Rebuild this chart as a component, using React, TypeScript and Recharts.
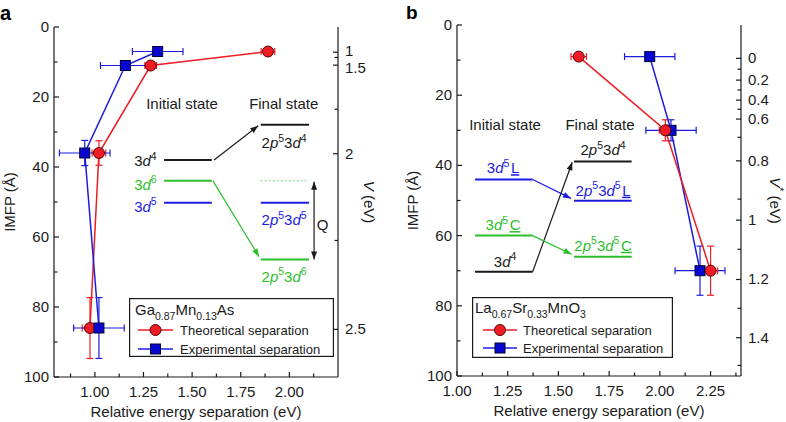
import React from "react";
import {
  ScatterChart,
  Scatter,
  XAxis,
  YAxis,
  ErrorBar,
  ReferenceLine,
  ReferenceDot,
  Legend,
} from "recharts";

const FONT = "'Liberation Sans', Arial, Helvetica, sans-serif";
const INK = "#1a1a1a";
const RED = "#ee1c24";
const BLUE = "#1c1ce0";
const GREEN = "#2bbf2b";

// panel a - Ga0.87Mn0.13As (x: eV, y: IMFP in Å)
const imfpA = [7, 11, 36, 86];
const theoA = [1.89, 1.287, 1.021, 0.975];
const theoErrXA = [0.035, 0.03, 0.035, 0.04];
const theoErrYA = [0, 0, 3.5, 8.7];
const expA = [1.323, 1.157, 0.948, 1.021];
const expErrXA = [0.13, 0.128, 0.13, 0.13];
const expErrYA = [0, 0, 3.6, 8.7];

// panel b - La0.67Sr0.33MnO3
const imfpB = [9, 30, 70];
const theoB = [1.6, 2.027, 2.25];
const theoErrXB = [0.038, 0.03, 0.035];
const theoErrYB = [0, 3, 7];
const expB = [1.95, 2.055, 2.198];
const expErrXB = [0.124, 0.124, 0.123];
const expErrYB = [0, 3, 7];

// ticks
const imfpTicks = [0, 10, 20, 30, 40, 50, 60, 70, 80, 90, 100];
const xTicksA = [0.875, 1, 1.125, 1.25, 1.375, 1.5, 1.625, 1.75, 1.875, 2, 2.125];
const xTicksB = [1, 1.125, 1.25, 1.375, 1.5, 1.625, 1.75, 1.875, 2, 2.125, 2.25, 2.375];
// right hand energy scales, placed at IMFP positions
const vPosA = [7.2, 8.7, 10.9, 23.5, 36.2, 61, 86.4];
const vLabelA = ["1", "", "1.5", "", "2", "", "2.5"];
const vPosB = [9.5, 12.6, 15.7, 18.5, 21.4, 24, 26.8, 32, 38.7, 49.6, 55.6, 63.9, 72.5, 80.7, 89.1, 97];
const vLabelB = ["0", "", "0.2", "", "0.4", "", "0.6", "", "0.8", "", "1", "", "1.2", "", "1.4", ""];

const domA: [number, number] = [0.79, 2.25];
const domB: [number, number] = [1, 2.4];

const toPoints = (xs: number[], ys: number[], ex: number[], ey: number[]) =>
  ys.map((y, i) => ({ x: xs[i], y, ex: ex[i], ey: ey[i] }));

// energy level diagrams (chart units)
const levelsA = [
  { x1: 1.356, x2: 1.601, y: 38, color: INK },
  { x1: 1.356, x2: 1.601, y: 43.9, color: GREEN },
  { x1: 1.356, x2: 1.601, y: 50.2, color: BLUE },
  { x1: 1.853, x2: 2.101, y: 27.9, color: INK },
  { x1: 1.853, x2: 2.101, y: 43.9, color: "#7fd87f", dotted: true },
  { x1: 1.853, x2: 2.101, y: 50.2, color: BLUE },
  { x1: 1.853, x2: 2.101, y: 66.4, color: GREEN },
];
const arrowsA = [
  { x1: 1.613, y1: 38, x2: 1.84, y2: 28.2, color: INK, both: false },
  { x1: 1.606, y1: 43.9, x2: 1.844, y2: 65.6, color: GREEN, both: false },
  { x1: 2.127, y1: 44.2, x2: 2.127, y2: 66.4, color: INK, both: true },
];
const textsA = [
  { x: 1.448, y: 22, t: "Initial state", color: INK, anchor: "middle" },
  { x: 1.971, y: 22, t: "Final state", color: INK, anchor: "middle" },
  { x: 1.318, y: 38.3, t: "3|~d|^4", color: INK, anchor: "end" },
  { x: 1.318, y: 45, t: "3|~d|^6", color: GREEN, anchor: "end" },
  { x: 1.318, y: 51.3, t: "3|~d|^5", color: BLUE, anchor: "end" },
  { x: 1.973, y: 33.2, t: "2|~p|^5|3|~d|^4", color: INK, anchor: "middle" },
  { x: 1.973, y: 55.1, t: "2|~p|^5|3|~d|^5", color: BLUE, anchor: "middle" },
  { x: 1.973, y: 71.3, t: "2|~p|^5|3|~d|^6", color: GREEN, anchor: "middle" },
  { x: 2.171, y: 56.6, t: "Q", color: INK, anchor: "middle" },
];

const levelsB = [
  { x1: 1.089, x2: 1.373, y: 44, color: BLUE },
  { x1: 1.089, x2: 1.373, y: 60, color: GREEN },
  { x1: 1.089, x2: 1.373, y: 70.3, color: INK },
  { x1: 1.577, x2: 1.861, y: 38.9, color: INK },
  { x1: 1.577, x2: 1.861, y: 50.1, color: BLUE },
  { x1: 1.577, x2: 1.861, y: 66, color: GREEN },
];
const arrowsB = [
  { x1: 1.373, y1: 70.3, x2: 1.568, y2: 39.1, color: INK, both: false },
  { x1: 1.373, y1: 44, x2: 1.562, y2: 49.4, color: BLUE, both: false },
  { x1: 1.373, y1: 60, x2: 1.565, y2: 65.3, color: GREEN, both: false },
];
const textsB = [
  { x: 1.237, y: 28.5, t: "Initial state", color: INK, anchor: "middle" },
  { x: 1.705, y: 28.5, t: "Final state", color: INK, anchor: "middle" },
  { x: 1.227, y: 40.8, t: "3|~d|^5|=L", color: BLUE, anchor: "middle" },
  { x: 1.72, y: 35.6, t: "2|~p|^5|3|~d|^4", color: INK, anchor: "middle" },
  { x: 1.72, y: 47.2, t: "2|~p|^5|3|~d|^5|=L", color: BLUE, anchor: "middle" },
  { x: 1.227, y: 57, t: "3|~d|^5|=C", color: GREEN, anchor: "middle" },
  { x: 1.72, y: 62.9, t: "2|~p|^5|3|~d|^5|=C", color: GREEN, anchor: "middle" },
  { x: 1.237, y: 67.4, t: "3|~d|^4", color: INK, anchor: "middle" },
];

// "|"-separated segments: ^ sup, _ sub, ~ italic, = underline
const rich = (spec: string, size: number) => {
  let cur = 0;
  return spec.split("|").map((raw, k) => {
    let s = raw;
    let sup = false, sub = false, it = false, u = false;
    while (s.length > 1 && "^_~=".includes(s[0])) {
      if (s[0] === "^") sup = true;
      if (s[0] === "_") sub = true;
      if (s[0] === "~") it = true;
      if (s[0] === "=") u = true;
      s = s.slice(1);
    }
    const target = sup ? -size * 0.42 : sub ? size * 0.3 : 0;
    const dy = target - cur;
    cur = target;
    return (
      <tspan
        key={k}
        dy={dy}
        dx={u ? 1.5 : 0}
        fontSize={sup || sub ? size * 0.7 : size}
        fontStyle={it ? "italic" : undefined}
        textDecoration={u ? "underline" : undefined}
        style={u ? { textDecoration: "underline" } : undefined}
      >
        {s}
      </tspan>
    );
  });
};

const circleShape = (p: any) => (
  <circle cx={p.cx} cy={p.cy} r={5.5} fill={RED} stroke="#5a0000" strokeWidth={1} />
);
const squareShape = (p: any) => (
  <rect x={p.cx - 5} y={p.cy - 5} width={10} height={10} fill="#0808d0" stroke="#00003a" strokeWidth={1} />
);

const isMajorX = (v: number) => Math.abs(v * 4 - Math.round(v * 4)) < 1e-6;

const BottomTick = (props: any) => {
  const { x, y, payload } = props;
  const major = isMajorX(payload.value);
  return (
    <g>
      <line x1={x} x2={x} y1={y} y2={y - (major ? 5 : 3.5)} stroke={INK} strokeWidth={1.2} />
      {major && (
        <text x={x} y={y + 20} textAnchor="middle" fontSize={15} fontFamily={FONT} fill={INK}>
          {payload.value.toFixed(2)}
        </text>
      )}
    </g>
  );
};

const LeftTick = (props: any) => {
  const { x, y, payload } = props;
  const major = payload.value % 20 === 0;
  return (
    <g>
      <line x1={x} x2={x + (major ? 5 : 3.5)} y1={y} y2={y} stroke={INK} strokeWidth={1.2} />
      {major && (
        <text x={x - 5} y={y} dy={5} textAnchor="end" fontSize={15} fontFamily={FONT} fill={INK}>
          {payload.value}
        </text>
      )}
    </g>
  );
};

const rightTick = (pos: number[], labels: string[], nudge: number[]) => (props: any) => {
  const { x, y, payload } = props;
  const i = pos.indexOf(payload.value);
  const lbl = labels[i] ?? "";
  return (
    <g>
      <line x1={x} x2={x - (lbl ? 5 : 3.5)} y1={y} y2={y} stroke={INK} strokeWidth={1.2} />
      {lbl && (
        <text x={x + 7} y={y + (nudge[i] ?? 0)} dy={5} textAnchor="start" fontSize={15} fontFamily={FONT} fill={INK}>
          {lbl}
        </text>
      )}
    </g>
  );
};

const leftTitle = (props: any) => {
  const vb = props.viewBox;
  const cx = vb.x + vb.width - 44;
  const cy = vb.y + vb.height / 2;
  return (
    <text x={cx} y={cy + 5} transform={`rotate(-90 ${cx} ${cy})`} textAnchor="middle" fontSize={15} fontFamily={FONT} fill={INK}>
      IMFP (Å)
    </text>
  );
};

const bottomTitle = (props: any) => {
  const vb = props.viewBox;
  return (
    <text x={vb.x + vb.width / 2} y={vb.y + 40} textAnchor="middle" fontSize={15} fontFamily={FONT} fill={INK}>
      Relative energy separation (eV)
    </text>
  );
};

const rightTitle = (spec: string, off: number) => (props: any) => {
  const vb = props.viewBox;
  const cx = vb.x + off;
  const cy = vb.y + vb.height / 2;
  return (
    <text x={cx} y={cy + 5} transform={`rotate(90 ${cx} ${cy})`} textAnchor="middle" fontSize={15} fontFamily={FONT} fill={INK}>
      {rich(spec, 15)}
    </text>
  );
};

const arrowShape = (color: string, both: boolean) => (p: any) => {
  const { x1, y1, x2, y2 } = p;
  const head = (hx: number, hy: number, fx: number, fy: number) => {
    const a = Math.atan2(hy - fy, hx - fx);
    const L = 8, W = 3;
    const bx = hx - L * Math.cos(a), by = hy - L * Math.sin(a);
    const pts = [
      [hx, hy],
      [bx + W * Math.sin(a), by - W * Math.cos(a)],
      [bx - W * Math.sin(a), by + W * Math.cos(a)],
    ];
    return <polygon points={pts.map((q) => q.join(",")).join(" ")} fill={color} />;
  };
  return (
    <g>
      <line x1={x1} y1={y1} x2={x2} y2={y2} stroke={color} strokeWidth={1.2} />
      {head(x2, y2, x1, y1)}
      {both && head(x1, y1, x2, y2)}
    </g>
  );
};

const textShape = (spec: string, color: string, anchor: string) => (p: any) => (
  <text x={p.cx} y={p.cy + 5} fill={color} textAnchor={anchor as any} fontSize={15} fontFamily={FONT}>
    {rich(spec, 15)}
  </text>
);

type LegendCfg = { w: number; h: number; title: string; tx: number; ty: number; rows: number[]; lx1: number; lx2: number; textX: number };

const legendBox = (c: LegendCfg) => (props: any) => {
  const items = [...(props.payload ?? [])].sort((a: any, b: any) =>
    String(a.value).startsWith("Theo") ? -1 : String(b.value).startsWith("Theo") ? 1 : 0
  );
  return (
    <svg width={c.w} height={c.h} style={{ display: "block" }}>
      <rect x={0.6} y={0.6} width={c.w - 1.2} height={c.h - 1.2} fill="#fff" stroke={INK} strokeWidth={1.2} />
      <text x={c.tx} y={c.ty} fontSize={15} fontFamily={FONT} fill={INK}>
        {rich(c.title, 15)}
      </text>
      {items.map((it: any, i: number) => {
        const y = c.rows[i];
        const mx = (c.lx1 + c.lx2) / 2;
        const theo = String(it.value).startsWith("Theo");
        return (
          <g key={i}>
            <line x1={c.lx1} x2={c.lx2} y1={y} y2={y} stroke={theo ? RED : BLUE} strokeWidth={1.5} />
            {theo ? circleShape({ cx: mx, cy: y }) : squareShape({ cx: mx, cy: y })}
            <text x={c.textX} y={y + 4.5} fontSize={13} fontFamily={FONT} fill={INK}>
              {it.value}
            </text>
          </g>
        );
      })}
    </svg>
  );
};

type PanelProps = {
  width: number;
  top: number;
  leftW: number;
  rightW: number;
  xH: number;
  dom: [number, number];
  xTicks: number[];
  vPos: number[];
  vLabel: string[];
  vNudge: number[];
  vTitle: string;
  vTitleOff: number;
  theo: any[];
  exp: any[];
  levels: any[];
  arrows: any[];
  texts: any[];
  legend: LegendCfg;
  legendPos: { left: number; top: number };
  redOnTop: boolean;
};

const Panel = (p: PanelProps) => {
  const theoSeries = (
    <Scatter key="t" name="Theoretical separation" data={p.theo} fill={RED} line={{ stroke: RED, strokeWidth: 1.5 }} lineType="joint" shape={circleShape} isAnimationActive={false}>
      <ErrorBar dataKey="ex" direction="x" stroke={RED} width={3.5} strokeWidth={1.2} isAnimationActive={false} />
      <ErrorBar dataKey="ey" direction="y" stroke={RED} width={3.5} strokeWidth={1.2} isAnimationActive={false} />
    </Scatter>
  );
  const expSeries = (
    <Scatter key="e" name="Experimental separation" data={p.exp} fill={BLUE} line={{ stroke: BLUE, strokeWidth: 1.5 }} lineType="joint" shape={squareShape} isAnimationActive={false}>
      <ErrorBar dataKey="ex" direction="x" stroke={BLUE} width={3.5} strokeWidth={1.2} isAnimationActive={false} />
      <ErrorBar dataKey="ey" direction="y" stroke={BLUE} width={3.5} strokeWidth={1.2} isAnimationActive={false} />
    </Scatter>
  );
  return (
    <ScatterChart width={p.width} height={422} margin={{ top: p.top, right: 0, bottom: 0, left: 0 }}>
      <XAxis
        dataKey="x"
        type="number"
        domain={p.dom}
        allowDataOverflow
        ticks={p.xTicks}
        interval={0}
        tick={BottomTick}
        tickLine={false}
        tickSize={0}
        tickMargin={0}
        height={p.xH}
        stroke={INK}
        strokeWidth={1.2}
        label={bottomTitle}
      />
      <XAxis xAxisId="top" orientation="top" type="number" dataKey="x" domain={p.dom} allowDataOverflow tick={false} tickLine={false} height={0} stroke={INK} strokeWidth={1.2} />
      <YAxis
        dataKey="y"
        type="number"
        domain={[0, 100]}
        reversed
        allowDataOverflow
        ticks={imfpTicks}
        interval={0}
        tick={LeftTick}
        tickLine={false}
        tickSize={0}
        tickMargin={0}
        width={p.leftW}
        stroke={INK}
        strokeWidth={1.2}
        label={leftTitle}
      />
      <YAxis
        yAxisId="right"
        orientation="right"
        dataKey="y"
        type="number"
        domain={[0, 100]}
        reversed
        allowDataOverflow
        ticks={p.vPos}
        interval={0}
        tick={rightTick(p.vPos, p.vLabel, p.vNudge)}
        tickLine={false}
        tickSize={0}
        tickMargin={0}
        width={p.rightW}
        stroke={INK}
        strokeWidth={1.2}
        label={rightTitle(p.vTitle, p.vTitleOff)}
      />
      {p.levels.map((l, i) => (
        <ReferenceLine
          key={`l${i}`}
          segment={[{ x: l.x1, y: l.y }, { x: l.x2, y: l.y }]}
          stroke={l.color}
          strokeWidth={l.dotted ? 1.2 : 2}
          strokeDasharray={l.dotted ? "1.5 2.5" : undefined}
          ifOverflow="visible"
        />
      ))}
      {p.arrows.map((a, i) => (
        <ReferenceLine
          key={`a${i}`}
          segment={[{ x: a.x1, y: a.y1 }, { x: a.x2, y: a.y2 }]}
          shape={arrowShape(a.color, a.both)}
          ifOverflow="visible"
        />
      ))}
      {p.texts.map((t, i) => (
        <ReferenceDot key={`t${i}`} x={t.x} y={t.y} r={0} ifOverflow="visible" shape={textShape(t.t, t.color, t.anchor)} />
      ))}
      {p.redOnTop ? [expSeries, theoSeries] : [theoSeries, expSeries]}
      <Legend
        layout="horizontal"
        verticalAlign="middle"
        align="center"
        content={legendBox(p.legend)}
        wrapperStyle={{ left: p.legendPos.left, top: p.legendPos.top, width: p.legend.w, height: p.legend.h }}
      />
    </ScatterChart>
  );
};

export default function App() {
  return (
    <div style={{ position: "absolute", left: 0, top: 0, width: 786, height: 422, background: "#fff", fontFamily: FONT }}>
      <div style={{ position: "absolute", left: 0, top: 0 }}>
        <Panel
          width={393}
          top={27}
          leftW={54}
          rightW={55}
          xH={45}
          dom={domA}
          xTicks={xTicksA}
          vPos={vPosA}
          vLabel={vLabelA}
          vNudge={[-1.5, 0, 2.5, 0, 0, 0, 0]}
          vTitle="~V| (eV)"
          vTitleOff={31}
          theo={toPoints(theoA, imfpA, theoErrXA, theoErrYA)}
          exp={toPoints(expA, imfpA, expErrXA, expErrYA)}
          levels={levelsA}
          arrows={arrowsA}
          texts={textsA}
          legend={{ w: 205, h: 59, title: "Ga|_0.87|Mn|_0.13|As", tx: 6, ty: 17, rows: [32, 51], lx1: 9, lx2: 44, textX: 51 }}
          legendPos={{ left: 129, top: 298 }}
          redOnTop={false}
        />
      </div>
      <div style={{ position: "absolute", left: 390, top: 0 }}>
        <Panel
          width={396}
          top={25}
          leftW={67}
          rightW={45}
          xH={46}
          dom={domB}
          xTicks={xTicksB}
          vPos={vPosB}
          vLabel={vLabelB}
          vNudge={[]}
          vTitle="~V|^*| (eV)"
          vTitleOff={34}
          theo={toPoints(theoB, imfpB, theoErrXB, theoErrYB)}
          exp={toPoints(expB, imfpB, expErrXB, expErrYB)}
          levels={levelsB}
          arrows={arrowsB}
          texts={textsB}
          legend={{ w: 201, h: 61, title: "La|_0.67|Sr|_0.33|MnO|_3", tx: 3, ty: 16, rows: [33, 51], lx1: 11, lx2: 45, textX: 51 }}
          legendPos={{ left: 82, top: 297 }}
          redOnTop={true}
        />
      </div>
      <svg width={786} height={422} style={{ position: "absolute", left: 0, top: 0, pointerEvents: "none" }}>
        <text x={0} y={20} fontSize={20} fontWeight="bold" fontFamily={FONT} fill="#000">a</text>
        <text x={406} y={19} fontSize={19} fontWeight="bold" fontFamily={FONT} fill="#000">b</text>
      </svg>
    </div>
  );
}
